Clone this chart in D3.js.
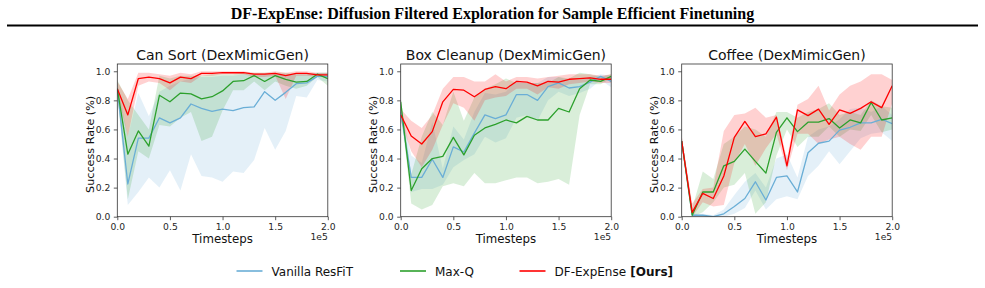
<!DOCTYPE html>
<html><head><meta charset="utf-8">
<script src="https://cdn.jsdelivr.net/npm/d3@7"></script>
<style>
html,body{margin:0;padding:0;background:#fff;}
svg{display:block;}
</style></head>
<body>
<svg id="chart" width="985" height="288"></svg>
<script>
// ---------------- DATA ----------------
const mainTitle = "DF-ExpEnse: Diffusion Filtered Exploration for Sample Efficient Finetuning";
const panelTitles = ["Can Sort (DexMimicGen)", "Box Cleanup (DexMimicGen)", "Coffee (DexMimicGen)"];
const seriesNames = ["Vanilla ResFiT", "Max-Q", "DF-ExpEnse"];
const seriesColors = ["#6aaed6", "#2ca02c", "#ff0000"];
const timesteps = [0, 10000, 20000, 30000, 40000, 50000, 60000, 70000, 80000, 90000, 100000,
  110000, 120000, 130000, 140000, 150000, 160000, 170000, 180000, 190000, 200000];
const xTickValues = [0, 50000, 100000, 150000, 200000];
const xTickLabels = ["0.0", "0.5", "1.0", "1.5", "2.0"];
const yTickValues = [0, 0.2, 0.4, 0.6, 0.8, 1.0];
const yTickLabels = ["0.0", "0.2", "0.4", "0.6", "0.8", "1.0"];

// Can Sort
const canResfitMean = [0.88,0.225,0.54,0.54,0.68,0.645,0.68,0.775,0.745,0.725,0.74,0.73,0.75,0.755,0.86,0.80,0.855,0.915,0.92,0.965,0.965];
const canResfitLo   = [0.85,0.08,0.17,0.27,0.20,0.32,0.18,0.43,0.28,0.27,0.24,0.31,0.30,0.39,0.61,0.46,0.59,0.83,0.82,0.94,0.93];
const canResfitHi   = [0.92,0.55,0.85,0.69,0.86,0.90,0.93,0.95,0.96,0.96,0.97,0.97,0.98,0.98,0.98,0.98,0.98,0.98,0.98,0.99,0.99];
const canMaxqMean   = [0.88,0.43,0.59,0.485,0.835,0.79,0.85,0.845,0.81,0.825,0.865,0.93,0.935,0.97,0.93,0.97,0.945,0.925,0.93,0.98,0.95];
const canMaxqLo     = [0.84,0.12,0.45,0.40,0.63,0.62,0.68,0.72,0.52,0.55,0.73,0.87,0.87,0.93,0.87,0.93,0.90,0.88,0.90,0.96,0.90];
const canMaxqHi     = [0.94,0.80,0.70,0.60,0.97,0.95,0.97,0.97,0.97,0.98,0.98,0.98,0.99,0.99,0.99,0.99,0.99,0.98,0.98,0.99,0.99];
const canOursMean   = [0.88,0.70,0.95,0.96,0.95,0.92,0.96,0.95,0.985,0.985,0.99,0.99,0.99,0.98,0.98,0.985,0.97,0.985,0.985,0.975,0.975];
const canOursLo     = [0.85,0.55,0.90,0.93,0.92,0.87,0.93,0.92,0.97,0.97,0.98,0.98,0.98,0.96,0.96,0.97,0.81,0.97,0.97,0.96,0.96];
const canOursHi     = [0.93,0.81,0.99,0.99,0.98,0.97,0.99,0.98,1.00,1.00,1.00,1.00,1.00,0.99,0.99,1.00,0.99,1.00,1.00,0.99,0.99];

// Box Cleanup
const boxResfitMean = [0.72,0.27,0.27,0.395,0.27,0.48,0.445,0.575,0.70,0.675,0.70,0.84,0.84,0.80,0.895,0.92,0.885,0.895,0.925,0.965,0.93];
const boxResfitLo   = [0.68,0.17,0.19,0.19,0.22,0.34,0.39,0.43,0.55,0.51,0.54,0.68,0.70,0.66,0.80,0.86,0.83,0.85,0.88,0.94,0.89];
const boxResfitHi   = [0.76,0.42,0.37,0.65,0.33,0.62,0.53,0.72,0.85,0.84,0.86,0.94,0.92,0.92,0.96,0.96,0.94,0.94,0.96,0.98,0.97];
const boxMaxqMean   = [0.79,0.18,0.33,0.40,0.415,0.545,0.425,0.56,0.61,0.635,0.665,0.645,0.69,0.665,0.665,0.745,0.72,0.88,0.94,0.93,0.965];
const boxMaxqLo     = [0.76,0.09,0.05,0.08,0.21,0.23,0.21,0.30,0.23,0.23,0.25,0.27,0.27,0.23,0.24,0.26,0.22,0.70,0.91,0.91,0.95];
const boxMaxqHi     = [0.82,0.29,0.55,0.72,0.63,0.86,0.66,0.82,0.88,0.91,0.95,0.92,0.92,0.92,0.92,0.96,0.95,0.99,0.98,0.96,0.98];
const boxOursMean   = [0.70,0.555,0.50,0.585,0.79,0.875,0.87,0.825,0.875,0.895,0.88,0.93,0.925,0.90,0.93,0.925,0.945,0.95,0.955,0.945,0.945];
const boxOursLo     = [0.66,0.45,0.34,0.46,0.63,0.78,0.75,0.66,0.80,0.82,0.83,0.88,0.88,0.84,0.89,0.88,0.91,0.92,0.93,0.92,0.92];
const boxOursHi     = [0.74,0.66,0.61,0.70,0.88,0.96,0.96,0.93,0.93,0.98,0.93,0.96,0.96,0.95,0.96,0.97,0.98,0.98,0.98,0.97,0.98];

// Coffee
const cofResfitMean = [0.52,0.01,0.01,0.00,0.02,0.07,0.125,0.24,0.115,0.27,0.28,0.17,0.44,0.505,0.52,0.595,0.615,0.645,0.645,0.67,0.64];
const cofResfitLo   = [0.50,0.00,0.00,0.00,0.00,0.02,0.06,0.18,0.05,0.12,0.14,0.12,0.28,0.35,0.45,0.36,0.45,0.54,0.57,0.58,0.52];
const cofResfitHi   = [0.55,0.02,0.02,0.01,0.05,0.15,0.24,0.30,0.20,0.40,0.43,0.27,0.55,0.60,0.62,0.67,0.74,0.75,0.72,0.76,0.70];
const cofMaxqMean   = [0.52,0.01,0.17,0.17,0.35,0.38,0.465,0.38,0.30,0.58,0.68,0.585,0.65,0.65,0.675,0.61,0.665,0.645,0.785,0.665,0.68];
const cofMaxqLo     = [0.50,0.00,0.03,0.10,0.20,0.22,0.30,0.02,0.10,0.42,0.60,0.48,0.55,0.55,0.62,0.55,0.60,0.59,0.70,0.58,0.60];
const cofMaxqHi     = [0.55,0.06,0.31,0.26,0.50,0.55,0.62,0.60,0.55,0.72,0.72,0.68,0.72,0.74,0.78,0.70,0.72,0.70,0.80,0.76,0.75];
const cofOursMean   = [0.52,0.03,0.16,0.125,0.28,0.545,0.655,0.55,0.57,0.685,0.35,0.735,0.695,0.74,0.635,0.735,0.71,0.745,0.79,0.75,0.90];
const cofOursLo     = [0.50,0.00,0.10,0.07,0.08,0.37,0.50,0.35,0.47,0.57,0.32,0.57,0.57,0.50,0.53,0.55,0.50,0.46,0.55,0.55,0.78];
const cofOursHi     = [0.56,0.09,0.19,0.20,0.59,0.70,0.71,0.75,0.68,0.70,0.40,0.77,0.81,0.90,0.73,0.84,0.90,0.93,0.98,0.98,0.94];

const panels = [
  {title: panelTitles[0], series: [
    {mean: canResfitMean, lo: canResfitLo, hi: canResfitHi},
    {mean: canMaxqMean, lo: canMaxqLo, hi: canMaxqHi},
    {mean: canOursMean, lo: canOursLo, hi: canOursHi}]},
  {title: panelTitles[1], series: [
    {mean: boxResfitMean, lo: boxResfitLo, hi: boxResfitHi},
    {mean: boxMaxqMean, lo: boxMaxqLo, hi: boxMaxqHi},
    {mean: boxOursMean, lo: boxOursLo, hi: boxOursHi}]},
  {title: panelTitles[2], series: [
    {mean: cofResfitMean, lo: cofResfitLo, hi: cofResfitHi},
    {mean: cofMaxqMean, lo: cofMaxqLo, hi: cofMaxqHi},
    {mean: cofOursMean, lo: cofOursLo, hi: cofOursHi}]}
];

// ---------------- LAYOUT ----------------
const svg = d3.select("#chart");
const FONT = "'DejaVu Sans', sans-serif";
const panelLeft = [117.3, 400.7, 681.7];
const panelW = 210.5;
const plotTop = 64, plotBottom = 216.7;

// main title
svg.append("text")
  .attr("x", 492.5).attr("y", 19)
  .attr("text-anchor", "middle")
  .attr("font-family", "'Liberation Serif', 'Times New Roman', serif")
  .attr("font-weight", "bold")
  .attr("font-size", 16)
  .attr("fill", "#000")
  .text(mainTitle);
svg.append("line")
  .attr("x1", 7).attr("x2", 978).attr("y1", 25.5).attr("y2", 25.5)
  .attr("stroke", "#000").attr("stroke-width", 2);

panels.forEach((p, i) => {
  const x = d3.scaleLinear().domain([0, 200000]).range([panelLeft[i], panelLeft[i] + panelW]);
  const y = d3.scaleLinear().domain([0, 1.05]).range([plotBottom, plotTop]);
  const g = svg.append("g");

  const clipId = "clip" + i;
  g.append("clipPath").attr("id", clipId).append("rect")
    .attr("x", panelLeft[i]).attr("y", plotTop).attr("width", panelW).attr("height", plotBottom - plotTop);
  const plot = g.append("g").attr("clip-path", `url(#${clipId})`);

  p.series.forEach((s, k) => {
    const area = d3.area()
      .x((d, j) => x(timesteps[j]))
      .y0((d, j) => y(s.lo[j]))
      .y1((d, j) => y(s.hi[j]));
    plot.append("path").datum(s.mean)
      .attr("d", area)
      .attr("fill", seriesColors[k]).attr("fill-opacity", 0.18).attr("stroke", "none");
  });
  p.series.forEach((s, k) => {
    const line = d3.line().x((d, j) => x(timesteps[j])).y(d => y(d));
    plot.append("path").datum(s.mean)
      .attr("d", line)
      .attr("fill", "none").attr("stroke", seriesColors[k]).attr("stroke-width", 1.3)
      .attr("stroke-linejoin", "round");
  });

  // axes
  const xAxis = d3.axisBottom(x).tickValues(xTickValues)
    .tickFormat((d, j) => xTickLabels[j]).tickSize(3.5).tickPadding(3.5).tickSizeOuter(0);
  const gx = g.append("g").attr("transform", `translate(0,${plotBottom})`).call(xAxis);
  const yAxis = d3.axisLeft(y).tickValues(yTickValues)
    .tickFormat((d, j) => yTickLabels[j]).tickSize(3.5).tickPadding(3.5).tickSizeOuter(0);
  const gy = g.append("g").attr("transform", `translate(${panelLeft[i]},0)`).call(yAxis);
  [gx, gy].forEach(ax => {
    ax.select(".domain").remove();
    ax.selectAll("text").attr("font-family", FONT).attr("font-size", 9.2).attr("fill", "#262626");
    ax.selectAll("line").attr("stroke", "#333").attr("stroke-width", 0.8);
  });

  // frame
  g.append("rect")
    .attr("x", panelLeft[i]).attr("y", plotTop).attr("width", panelW).attr("height", plotBottom - plotTop)
    .attr("fill", "none").attr("stroke", "#333").attr("stroke-width", 0.8);

  // titles and labels
  const cx = panelLeft[i] + panelW / 2;
  g.append("text").attr("x", cx).attr("y", 59.5).attr("text-anchor", "middle")
    .attr("font-family", FONT).attr("font-size", 14).attr("fill", "#111").text(p.title);
  g.append("text").attr("x", cx).attr("y", 242.5).attr("text-anchor", "middle")
    .attr("font-family", FONT).attr("font-size", 11.8).attr("fill", "#111").text("Timesteps");
  g.append("text").attr("x", panelLeft[i] + panelW).attr("y", 240).attr("text-anchor", "end")
    .attr("font-family", FONT).attr("font-size", 9.2).attr("fill", "#262626").text("1e5");
  g.append("text")
    .attr("transform", `translate(${panelLeft[i] - 23.5},${(plotTop + plotBottom) / 2 + 4}) rotate(-90)`)
    .attr("text-anchor", "middle")
    .attr("font-family", FONT).attr("font-size", 11.2).attr("fill", "#111").text("Success Rate (%)");
});

// legend
const legendX = [236.5, 400, 519.5];
const leg = svg.append("g");
seriesNames.forEach((n, k) => {
  leg.append("line").attr("x1", legendX[k]).attr("x2", legendX[k] + 26)
    .attr("y1", 271).attr("y2", 271).attr("stroke", seriesColors[k]).attr("stroke-width", 1.6);
  const t = leg.append("text").attr("x", legendX[k] + 35).attr("y", 275.5)
    .attr("font-family", FONT).attr("font-size", 12).attr("fill", "#111");
  t.append("tspan").text(n);
  if (k === 2) t.append("tspan").attr("font-weight", "bold").text(" [Ours]");
});
</script>
</body></html>
